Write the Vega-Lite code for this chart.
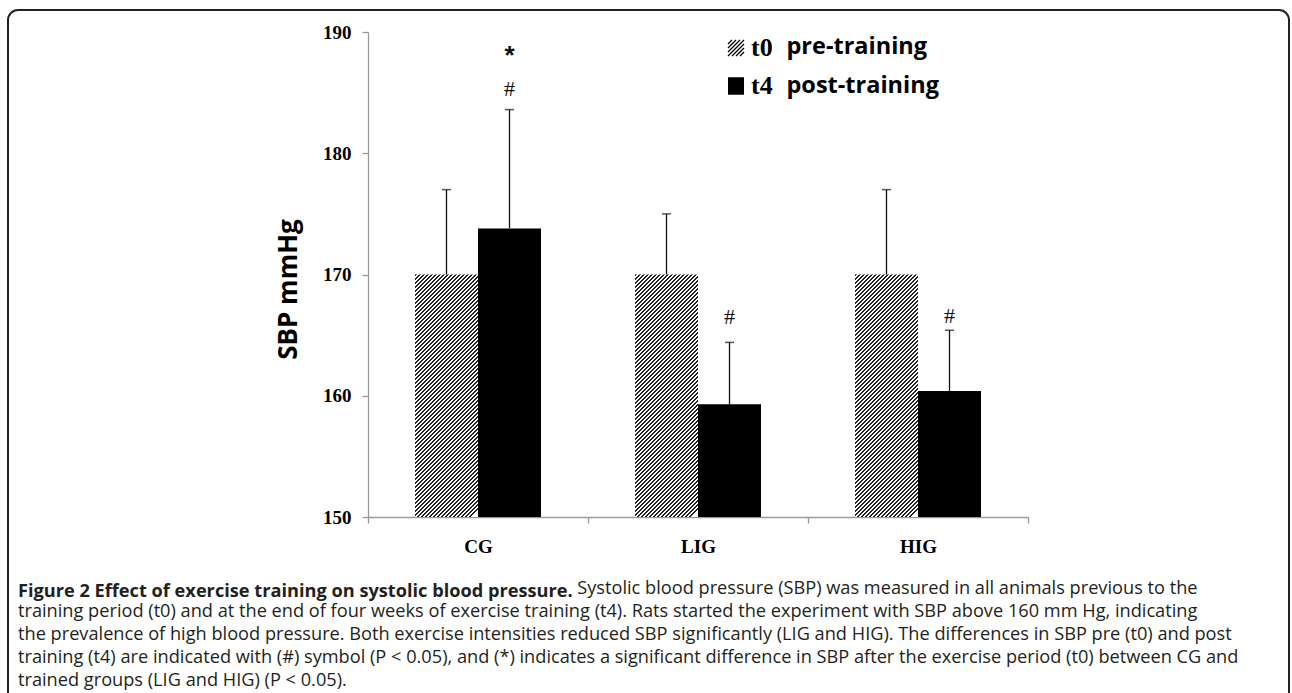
{
  "$schema": "https://vega.github.io/schema/vega-lite/v6.json",
  "width": 660,
  "height": 485,
  "autosize": {"type": "none"},
  "padding": {"left": 368, "top": 32, "right": 264, "bottom": 176},
  "background": "white",
  "config": {"view": {"stroke": null}, "legend": {"strokeWidth": 2}},
  "title": {
    "text": "Figure 2 Effect of exercise training on systolic blood pressure.",
    "subtitle": [
      "\u200b\u2003\u2003\u2003\u2003\u2003\u2003\u2003\u2003\u2003\u2003\u2003\u2003\u2003\u2003\u2003\u2003\u2003\u2003\u2003\u2003\u2003\u2003\u2003\u2003\u2003\u2003\u2003\u2003\u2003\u2003\u2002\u2005Systolic blood pressure (SBP) was measured in all animals previous to the",
      "training period (t0) and at the end of four weeks of exercise training (t4). Rats started the experiment with SBP above 160 mm Hg, indicating",
      "the prevalence of high blood pressure. Both exercise intensities reduced SBP significantly (LIG and HIG). The differences in SBP pre (t0) and post",
      "training (t4) are indicated with (#) symbol (P < 0.05), and (*) indicates a significant difference in SBP after the exercise period (t0) between CG and",
      "trained groups (LIG and HIG) (P < 0.05)."
    ],
    "orient": "bottom",
    "anchor": "start",
    "frame": "group",
    "dx": -350,
    "offset": -128,
    "font": "Open Sans",
    "fontSize": 18.2,
    "fontWeight": "bold",
    "color": "#231f20",
    "subtitleFont": "Open Sans",
    "subtitleFontSize": 18.2,
    "subtitleFontWeight": "normal",
    "subtitleColor": "#231f20",
    "subtitleLineHeight": 23,
    "subtitlePadding": -21
  },
  "datasets": {
    "bars": [
      {"group": "CG", "period": "t0", "phase": "pre-training", "sbp": 170, "upper": 177},
      {"group": "CG", "period": "t4", "phase": "post-training", "sbp": 173.8, "upper": 183.6},
      {"group": "LIG", "period": "t0", "phase": "pre-training", "sbp": 170, "upper": 175},
      {"group": "LIG", "period": "t4", "phase": "post-training", "sbp": 159.3, "upper": 164.4},
      {"group": "HIG", "period": "t0", "phase": "pre-training", "sbp": 170, "upper": 177},
      {"group": "HIG", "period": "t4", "phase": "post-training", "sbp": 160.4, "upper": 165.4}
    ],
    "signif": [
      {"group": "CG", "period": "t4", "symbol": "*", "level": 188.0},
      {"group": "CG", "period": "t4", "symbol": "#", "level": 185.3},
      {"group": "LIG", "period": "t4", "symbol": "#", "level": 166.5},
      {"group": "HIG", "period": "t4", "symbol": "#", "level": 166.6}
    ]
  },
  "layer": [
    {
      "data": {"name": "bars"},
      "transform": [{"filter": "datum.period === 't0'"}],
      "mark": {
        "type": "bar",
        "fill": {
          "gradient": "linear",
          "x1": 0, "y1": 0, "x2": 0.30107, "y2": 1.1589,
          "stops": [
            {"offset":0,"color":"#222"},{"offset":0.00667,"color":"#222"},{"offset":0.00667,"color":"#fff"},{"offset":0.01333,"color":"#fff"},
            {"offset":0.01333,"color":"#222"},{"offset":0.02,"color":"#222"},{"offset":0.02,"color":"#fff"},{"offset":0.02667,"color":"#fff"},
            {"offset":0.02667,"color":"#222"},{"offset":0.03333,"color":"#222"},{"offset":0.03333,"color":"#fff"},{"offset":0.04,"color":"#fff"},
            {"offset":0.04,"color":"#222"},{"offset":0.04667,"color":"#222"},{"offset":0.04667,"color":"#fff"},{"offset":0.05333,"color":"#fff"},
            {"offset":0.05333,"color":"#222"},{"offset":0.06,"color":"#222"},{"offset":0.06,"color":"#fff"},{"offset":0.06667,"color":"#fff"},
            {"offset":0.06667,"color":"#222"},{"offset":0.07333,"color":"#222"},{"offset":0.07333,"color":"#fff"},{"offset":0.08,"color":"#fff"},
            {"offset":0.08,"color":"#222"},{"offset":0.08667,"color":"#222"},{"offset":0.08667,"color":"#fff"},{"offset":0.09333,"color":"#fff"},
            {"offset":0.09333,"color":"#222"},{"offset":0.1,"color":"#222"},{"offset":0.1,"color":"#fff"},{"offset":0.10667,"color":"#fff"},
            {"offset":0.10667,"color":"#222"},{"offset":0.11333,"color":"#222"},{"offset":0.11333,"color":"#fff"},{"offset":0.12,"color":"#fff"},
            {"offset":0.12,"color":"#222"},{"offset":0.12667,"color":"#222"},{"offset":0.12667,"color":"#fff"},{"offset":0.13333,"color":"#fff"},
            {"offset":0.13333,"color":"#222"},{"offset":0.14,"color":"#222"},{"offset":0.14,"color":"#fff"},{"offset":0.14667,"color":"#fff"},
            {"offset":0.14667,"color":"#222"},{"offset":0.15333,"color":"#222"},{"offset":0.15333,"color":"#fff"},{"offset":0.16,"color":"#fff"},
            {"offset":0.16,"color":"#222"},{"offset":0.16667,"color":"#222"},{"offset":0.16667,"color":"#fff"},{"offset":0.17333,"color":"#fff"},
            {"offset":0.17333,"color":"#222"},{"offset":0.18,"color":"#222"},{"offset":0.18,"color":"#fff"},{"offset":0.18667,"color":"#fff"},
            {"offset":0.18667,"color":"#222"},{"offset":0.19333,"color":"#222"},{"offset":0.19333,"color":"#fff"},{"offset":0.2,"color":"#fff"},
            {"offset":0.2,"color":"#222"},{"offset":0.20667,"color":"#222"},{"offset":0.20667,"color":"#fff"},{"offset":0.21333,"color":"#fff"},
            {"offset":0.21333,"color":"#222"},{"offset":0.22,"color":"#222"},{"offset":0.22,"color":"#fff"},{"offset":0.22667,"color":"#fff"},
            {"offset":0.22667,"color":"#222"},{"offset":0.23333,"color":"#222"},{"offset":0.23333,"color":"#fff"},{"offset":0.24,"color":"#fff"},
            {"offset":0.24,"color":"#222"},{"offset":0.24667,"color":"#222"},{"offset":0.24667,"color":"#fff"},{"offset":0.25333,"color":"#fff"},
            {"offset":0.25333,"color":"#222"},{"offset":0.26,"color":"#222"},{"offset":0.26,"color":"#fff"},{"offset":0.26667,"color":"#fff"},
            {"offset":0.26667,"color":"#222"},{"offset":0.27333,"color":"#222"},{"offset":0.27333,"color":"#fff"},{"offset":0.28,"color":"#fff"},
            {"offset":0.28,"color":"#222"},{"offset":0.28667,"color":"#222"},{"offset":0.28667,"color":"#fff"},{"offset":0.29333,"color":"#fff"},
            {"offset":0.29333,"color":"#222"},{"offset":0.3,"color":"#222"},{"offset":0.3,"color":"#fff"},{"offset":0.30667,"color":"#fff"},
            {"offset":0.30667,"color":"#222"},{"offset":0.31333,"color":"#222"},{"offset":0.31333,"color":"#fff"},{"offset":0.32,"color":"#fff"},
            {"offset":0.32,"color":"#222"},{"offset":0.32667,"color":"#222"},{"offset":0.32667,"color":"#fff"},{"offset":0.33333,"color":"#fff"},
            {"offset":0.33333,"color":"#222"},{"offset":0.34,"color":"#222"},{"offset":0.34,"color":"#fff"},{"offset":0.34667,"color":"#fff"},
            {"offset":0.34667,"color":"#222"},{"offset":0.35333,"color":"#222"},{"offset":0.35333,"color":"#fff"},{"offset":0.36,"color":"#fff"},
            {"offset":0.36,"color":"#222"},{"offset":0.36667,"color":"#222"},{"offset":0.36667,"color":"#fff"},{"offset":0.37333,"color":"#fff"},
            {"offset":0.37333,"color":"#222"},{"offset":0.38,"color":"#222"},{"offset":0.38,"color":"#fff"},{"offset":0.38667,"color":"#fff"},
            {"offset":0.38667,"color":"#222"},{"offset":0.39333,"color":"#222"},{"offset":0.39333,"color":"#fff"},{"offset":0.4,"color":"#fff"},
            {"offset":0.4,"color":"#222"},{"offset":0.40667,"color":"#222"},{"offset":0.40667,"color":"#fff"},{"offset":0.41333,"color":"#fff"},
            {"offset":0.41333,"color":"#222"},{"offset":0.42,"color":"#222"},{"offset":0.42,"color":"#fff"},{"offset":0.42667,"color":"#fff"},
            {"offset":0.42667,"color":"#222"},{"offset":0.43333,"color":"#222"},{"offset":0.43333,"color":"#fff"},{"offset":0.44,"color":"#fff"},
            {"offset":0.44,"color":"#222"},{"offset":0.44667,"color":"#222"},{"offset":0.44667,"color":"#fff"},{"offset":0.45333,"color":"#fff"},
            {"offset":0.45333,"color":"#222"},{"offset":0.46,"color":"#222"},{"offset":0.46,"color":"#fff"},{"offset":0.46667,"color":"#fff"},
            {"offset":0.46667,"color":"#222"},{"offset":0.47333,"color":"#222"},{"offset":0.47333,"color":"#fff"},{"offset":0.48,"color":"#fff"},
            {"offset":0.48,"color":"#222"},{"offset":0.48667,"color":"#222"},{"offset":0.48667,"color":"#fff"},{"offset":0.49333,"color":"#fff"},
            {"offset":0.49333,"color":"#222"},{"offset":0.5,"color":"#222"},{"offset":0.5,"color":"#fff"},{"offset":0.50667,"color":"#fff"},
            {"offset":0.50667,"color":"#222"},{"offset":0.51333,"color":"#222"},{"offset":0.51333,"color":"#fff"},{"offset":0.52,"color":"#fff"},
            {"offset":0.52,"color":"#222"},{"offset":0.52667,"color":"#222"},{"offset":0.52667,"color":"#fff"},{"offset":0.53333,"color":"#fff"},
            {"offset":0.53333,"color":"#222"},{"offset":0.54,"color":"#222"},{"offset":0.54,"color":"#fff"},{"offset":0.54667,"color":"#fff"},
            {"offset":0.54667,"color":"#222"},{"offset":0.55333,"color":"#222"},{"offset":0.55333,"color":"#fff"},{"offset":0.56,"color":"#fff"},
            {"offset":0.56,"color":"#222"},{"offset":0.56667,"color":"#222"},{"offset":0.56667,"color":"#fff"},{"offset":0.57333,"color":"#fff"},
            {"offset":0.57333,"color":"#222"},{"offset":0.58,"color":"#222"},{"offset":0.58,"color":"#fff"},{"offset":0.58667,"color":"#fff"},
            {"offset":0.58667,"color":"#222"},{"offset":0.59333,"color":"#222"},{"offset":0.59333,"color":"#fff"},{"offset":0.6,"color":"#fff"},
            {"offset":0.6,"color":"#222"},{"offset":0.60667,"color":"#222"},{"offset":0.60667,"color":"#fff"},{"offset":0.61333,"color":"#fff"},
            {"offset":0.61333,"color":"#222"},{"offset":0.62,"color":"#222"},{"offset":0.62,"color":"#fff"},{"offset":0.62667,"color":"#fff"},
            {"offset":0.62667,"color":"#222"},{"offset":0.63333,"color":"#222"},{"offset":0.63333,"color":"#fff"},{"offset":0.64,"color":"#fff"},
            {"offset":0.64,"color":"#222"},{"offset":0.64667,"color":"#222"},{"offset":0.64667,"color":"#fff"},{"offset":0.65333,"color":"#fff"},
            {"offset":0.65333,"color":"#222"},{"offset":0.66,"color":"#222"},{"offset":0.66,"color":"#fff"},{"offset":0.66667,"color":"#fff"},
            {"offset":0.66667,"color":"#222"},{"offset":0.67333,"color":"#222"},{"offset":0.67333,"color":"#fff"},{"offset":0.68,"color":"#fff"},
            {"offset":0.68,"color":"#222"},{"offset":0.68667,"color":"#222"},{"offset":0.68667,"color":"#fff"},{"offset":0.69333,"color":"#fff"},
            {"offset":0.69333,"color":"#222"},{"offset":0.7,"color":"#222"},{"offset":0.7,"color":"#fff"},{"offset":0.70667,"color":"#fff"},
            {"offset":0.70667,"color":"#222"},{"offset":0.71333,"color":"#222"},{"offset":0.71333,"color":"#fff"},{"offset":0.72,"color":"#fff"},
            {"offset":0.72,"color":"#222"},{"offset":0.72667,"color":"#222"},{"offset":0.72667,"color":"#fff"},{"offset":0.73333,"color":"#fff"},
            {"offset":0.73333,"color":"#222"},{"offset":0.74,"color":"#222"},{"offset":0.74,"color":"#fff"},{"offset":0.74667,"color":"#fff"},
            {"offset":0.74667,"color":"#222"},{"offset":0.75333,"color":"#222"},{"offset":0.75333,"color":"#fff"},{"offset":0.76,"color":"#fff"},
            {"offset":0.76,"color":"#222"},{"offset":0.76667,"color":"#222"},{"offset":0.76667,"color":"#fff"},{"offset":0.77333,"color":"#fff"},
            {"offset":0.77333,"color":"#222"},{"offset":0.78,"color":"#222"},{"offset":0.78,"color":"#fff"},{"offset":0.78667,"color":"#fff"},
            {"offset":0.78667,"color":"#222"},{"offset":0.79333,"color":"#222"},{"offset":0.79333,"color":"#fff"},{"offset":0.8,"color":"#fff"},
            {"offset":0.8,"color":"#222"},{"offset":0.80667,"color":"#222"},{"offset":0.80667,"color":"#fff"},{"offset":0.81333,"color":"#fff"},
            {"offset":0.81333,"color":"#222"},{"offset":0.82,"color":"#222"},{"offset":0.82,"color":"#fff"},{"offset":0.82667,"color":"#fff"},
            {"offset":0.82667,"color":"#222"},{"offset":0.83333,"color":"#222"},{"offset":0.83333,"color":"#fff"},{"offset":0.84,"color":"#fff"},
            {"offset":0.84,"color":"#222"},{"offset":0.84667,"color":"#222"},{"offset":0.84667,"color":"#fff"},{"offset":0.85333,"color":"#fff"},
            {"offset":0.85333,"color":"#222"},{"offset":0.86,"color":"#222"},{"offset":0.86,"color":"#fff"},{"offset":0.86667,"color":"#fff"},
            {"offset":0.86667,"color":"#222"},{"offset":0.87333,"color":"#222"},{"offset":0.87333,"color":"#fff"},{"offset":0.88,"color":"#fff"},
            {"offset":0.88,"color":"#222"},{"offset":0.88667,"color":"#222"},{"offset":0.88667,"color":"#fff"},{"offset":0.89333,"color":"#fff"},
            {"offset":0.89333,"color":"#222"},{"offset":0.9,"color":"#222"},{"offset":0.9,"color":"#fff"},{"offset":0.90667,"color":"#fff"},
            {"offset":0.90667,"color":"#222"},{"offset":0.91333,"color":"#222"},{"offset":0.91333,"color":"#fff"},{"offset":0.92,"color":"#fff"},
            {"offset":0.92,"color":"#222"},{"offset":0.92667,"color":"#222"},{"offset":0.92667,"color":"#fff"},{"offset":0.93333,"color":"#fff"},
            {"offset":0.93333,"color":"#222"},{"offset":0.94,"color":"#222"},{"offset":0.94,"color":"#fff"},{"offset":0.94667,"color":"#fff"},
            {"offset":0.94667,"color":"#222"},{"offset":0.95333,"color":"#222"},{"offset":0.95333,"color":"#fff"},{"offset":0.96,"color":"#fff"},
            {"offset":0.96,"color":"#222"},{"offset":0.96667,"color":"#222"},{"offset":0.96667,"color":"#fff"},{"offset":0.97333,"color":"#fff"},
            {"offset":0.97333,"color":"#222"},{"offset":0.98,"color":"#222"},{"offset":0.98,"color":"#fff"},{"offset":0.98667,"color":"#fff"},
            {"offset":0.98667,"color":"#222"},{"offset":0.99333,"color":"#222"},{"offset":0.99333,"color":"#fff"},{"offset":1,"color":"#fff"}
          ]
        }
      },
      "encoding": {
        "x": {
          "field": "group", "type": "nominal", "sort": ["CG", "LIG", "HIG"], "title": null,
          "scale": {"paddingInner": 0, "paddingOuter": 0},
          "axis": {
            "title": null, "labelAngle": 0, "labelFont": "Liberation Serif", "labelFontWeight": "bold",
            "labelFontSize": 19, "labelColor": "#000", "labelPadding": 14, "tickBand": "extent",
            "tickSize": 6, "tickColor": "#9a9a9a", "domainColor": "#9a9a9a", "domainWidth": 1.3, "tickWidth": 1.3
          }
        },
        "xOffset": {
          "field": "period", "type": "nominal",
          "scale": {"domain": ["t0", "t4"], "paddingInner": 0, "paddingOuter": 0.746}
        },
        "y": {
          "field": "sbp", "type": "quantitative", "title": "SBP mmHg",
          "scale": {"domain": [150, 190], "nice": false, "zero": false},
          "axis": {
            "values": [150, 160, 170, 180, 190], "grid": false,
            "labelFont": "Liberation Serif", "labelFontWeight": "bold", "labelFontSize": 19, "labelColor": "#000",
            "labelPadding": 11, "tickSize": 6, "tickColor": "#9a9a9a", "domainColor": "#9a9a9a", "domainWidth": 1.3, "tickWidth": 1.3,
            "title": "SBP mmHg", "titleFont": "Open Sans", "titleFontWeight": "bold", "titleFontSize": 26,
            "titleColor": "#000", "titleX": -80, "titleY": 257, "titleAngle": -90,
            "titleBaseline": "middle", "titleAlign": "center"
          }
        },
        "y2": {"datum": 150}
      }
    },
    {
      "data": {"name": "bars"},
      "transform": [{"filter": "datum.period === 't4'"}],
      "mark": {"type": "bar", "fill": "#000"},
      "encoding": {
        "x": {"field": "group", "type": "nominal", "sort": ["CG", "LIG", "HIG"], "title": null},
        "xOffset": {"field": "period", "type": "nominal", "scale": {"domain": ["t0", "t4"]}},
        "y": {"field": "sbp", "type": "quantitative", "title": "SBP mmHg"},
        "y2": {"datum": 150}
      }
    },
    {
      "data": {"name": "bars"},
      "mark": {"type": "rule", "color": "#111", "strokeWidth": 1.3},
      "encoding": {
        "x": {"field": "group", "type": "nominal", "sort": ["CG", "LIG", "HIG"], "title": null},
        "xOffset": {"field": "period", "type": "nominal", "scale": {"domain": ["t0", "t4"]}},
        "y": {"field": "sbp", "type": "quantitative", "title": "SBP mmHg"},
        "y2": {"field": "upper"}
      }
    },
    {
      "data": {"name": "bars"},
      "mark": {"type": "tick", "color": "#111", "size": 9, "thickness": 1.5, "orient": "horizontal"},
      "encoding": {
        "x": {"field": "group", "type": "nominal", "sort": ["CG", "LIG", "HIG"], "title": null},
        "xOffset": {"field": "period", "type": "nominal", "scale": {"domain": ["t0", "t4"]}},
        "y": {"field": "upper", "type": "quantitative", "title": "SBP mmHg"}
      }
    },
    {
      "data": {"name": "signif"},
      "transform": [{"filter": "datum.symbol === '#'"}],
      "mark": {"type": "text", "font": "Liberation Serif", "fontSize": 22, "color": "#111", "baseline": "middle", "align": "center"},
      "encoding": {
        "x": {"field": "group", "type": "nominal", "sort": ["CG", "LIG", "HIG"], "title": null},
        "xOffset": {"field": "period", "type": "nominal", "scale": {"domain": ["t0", "t4"]}},
        "y": {"field": "level", "type": "quantitative", "title": "SBP mmHg"},
        "text": {"field": "symbol"}
      }
    },
    {
      "data": {"name": "signif"},
      "transform": [{"filter": "datum.symbol === '*'"}],
      "mark": {"type": "text", "font": "Liberation Sans", "fontWeight": "bold", "fontSize": 26, "color": "#111", "baseline": "middle", "align": "center"},
      "encoding": {
        "x": {"field": "group", "type": "nominal", "sort": ["CG", "LIG", "HIG"], "title": null},
        "xOffset": {"field": "period", "type": "nominal", "scale": {"domain": ["t0", "t4"]}},
        "y": {"field": "level", "type": "quantitative", "title": "SBP mmHg"},
        "text": {"field": "symbol"}
      }
    },
    {
      "data": {"name": "bars"},
      "mark": {"type": "point", "opacity": 0, "filled": false, "strokeWidth": 1.3},
      "encoding": {
        "shape": {
          "field": "period", "type": "nominal",
          "scale": {"domain": ["t0", "t4"], "range": [
            "M-1,-0.5L-0.5,-1M-1,0L0,-1M-1,0.5L0.5,-1M-1,1L1,-1M-0.5,1L1,-0.5M0,1L1,0M0.5,1L1,0.5",
            "M-1,-1H1M-1,-0.9H1M-1,-0.8H1M-1,-0.7H1M-1,-0.6H1M-1,-0.5H1M-1,-0.4H1M-1,-0.3H1M-1,-0.2H1M-1,-0.1H1M-1,0H1M-1,0.1H1M-1,0.2H1M-1,0.3H1M-1,0.4H1M-1,0.5H1M-1,0.6H1M-1,0.7H1M-1,0.8H1M-1,0.9H1M-1,1H1"
          ]},
          "legend": {
            "title": null, "orient": "none", "legendX": 355, "legendY": 3, "padding": 0,
            "symbolSize": 256, "symbolStrokeWidth": 1.3, "symbolOpacity": 1,
            "labelFont": "Liberation Serif", "labelFontWeight": "bold", "labelFontSize": 26, "labelColor": "#000",
            "labelOffset": 2, "rowPadding": 12
          }
        },
        "stroke": {
          "field": "period", "type": "nominal",
          "scale": {"domain": ["t0", "t4"], "range": ["#000", "#000"]},
          "legend": {
            "title": null, "orient": "none", "legendX": 355, "legendY": 3, "padding": 0,
            "symbolSize": 256, "symbolStrokeWidth": 1.3, "symbolOpacity": 1,
            "labelFont": "Liberation Serif", "labelFontWeight": "bold", "labelFontSize": 26, "labelColor": "#000",
            "labelOffset": 2, "rowPadding": 12
          }
        },
        "strokeDash": {
          "field": "phase", "type": "nominal",
          "scale": {"domain": ["pre-training", "post-training"]},
          "legend": {
            "title": null, "orient": "none", "legendX": 395, "legendY": 3, "padding": 0,
            "symbolSize": 0, "symbolOpacity": 0, "labelOffset": 0,
            "labelFont": "Open Sans", "labelFontWeight": "bold", "labelFontSize": 23.5, "labelColor": "#000",
            "rowPadding": 14
          }
        }
      }
    },
    {
      "data": {"name": "bars"},
      "mark": {"type": "point", "opacity": 0, "filled": true},
      "encoding": {
        "fill": {
          "field": "sbp", "type": "quantitative",
          "scale": {"range": ["rgba(255,255,255,0)", "rgba(255,255,255,0)"]},
          "legend": {
            "title": null, "orient": "none", "legendX": -360, "legendY": -22,
            "direction": "horizontal", "gradientLength": 601, "gradientThickness": 20,
            "gradientStrokeWidth": 0, "values": [], "labelOpacity": 0,
            "padding": 340, "strokeColor": "#222", "cornerRadius": 10
          }
        }
      }
    }
  ]
}
